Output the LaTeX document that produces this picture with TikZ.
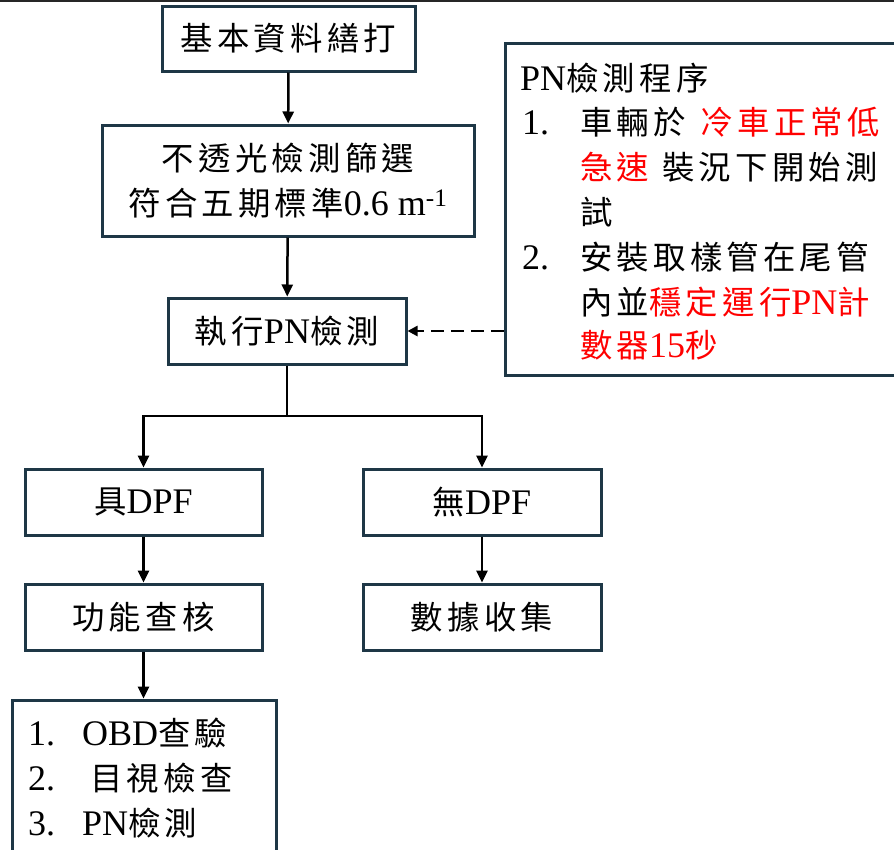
\documentclass[tikz,border=0pt]{standalone}
\usepackage{fontspec}
\setmainfont{Liberation Serif}
\newfontfamily\cjk[Scale=0.9,LetterSpace=13]{Noto Sans CJK TC}
\usetikzlibrary{arrows.meta}
\newcommand\C[1]{{\cjk #1}}
\definecolor{boxc}{RGB}{30,55,70}
\tikzset{
  flowbox/.style={draw=boxc, line width=3pt, fill=white, inner sep=0pt, align=center},
  txt/.style={inner sep=0pt, anchor=west},
  arr/.style={line width=2.5pt, -{Triangle[length=12pt,width=11pt]}},
  plain/.style={line width=2.5pt},
  dasharr/.style={line width=2.5pt, dash pattern=on 13pt off 7pt, -{Triangle[length=10pt,width=10pt]}}
}
\begin{document}
\begin{tikzpicture}[x=1pt,y=-1pt,font=\fontsize{36}{45}\selectfont]
\useasboundingbox (0,0) rectangle (894,849);
\clip (0,0) rectangle (894,849);
\fill[white] (0,0) rectangle (894,849);
\draw[line width=2.5pt, black!85] (0,1.2) -- (894,1.2);

% main boxes
\node[flowbox, minimum width=253pt, minimum height=65pt] (b1) at (288.5,38.5) {\C{基本資料繕打}};
\node[flowbox, minimum width=372pt, minimum height=111pt] (b2) at (288,180.5)
  {\C{不透光檢測篩選}\\\C{符合五期標準}0.6 m\textsuperscript{-1}};
\node[flowbox, minimum width=238pt, minimum height=66pt] (b3) at (287,331) {\C{執行}PN\C{檢測}};
\node[flowbox, minimum width=237pt, minimum height=66pt] (b4) at (143.5,502) {\C{具}DPF};
\node[flowbox, minimum width=238pt, minimum height=66pt] (b5) at (482,502) {\C{無}DPF};
\node[flowbox, minimum width=237pt, minimum height=66pt] (b6) at (143.5,617) {\C{功能查核}};
\node[flowbox, minimum width=238pt, minimum height=66pt] (b7) at (482,617) {\C{數據收集}};
\node[flowbox, minimum width=264pt, minimum height=170pt] (b8) at (144,785) {};

% procedure box
\node[flowbox, minimum width=420pt, minimum height=332pt] (pn) at (715,209) {};
\node[txt] (t0) at (520,78) {PN\C{檢測程序}};
\node[txt] (t1) at (522,122) {\makebox[58pt][l]{1.}\C{車輛於}\hspace{6pt} \textcolor{red}{\C{冷車正常低}}};
\node[txt] (t2) at (580,167) {\textcolor{red}{\C{急速}}\hspace{4pt} \C{裝況下開始測}};
\node[txt] (t3) at (580,212) {\C{試}};
\node[txt] (t4) at (522,257) {\makebox[58pt][l]{2.}\C{安裝取樣管在尾管}};
\node[txt] (t5) at (580,302) {\C{內並}\textcolor{red}{\C{穩定運行}PN\C{計}}};
\node[txt] (t6) at (580,345) {\textcolor{red}{\C{數器}15\C{秒}}};

% list box text
\node[txt] (l1) at (28,733) {\makebox[54pt][l]{1.}OBD\C{查驗}};
\node[txt] (l2) at (28,778) {\makebox[62pt][l]{2.}\C{目視檢查}};
\node[txt] (l3) at (28,823) {\makebox[54pt][l]{3.}PN\C{檢測}};

% connectors
\coordinate (split) at (287,416);
\draw[arr] (b1) -- (b2);
\draw[arr] (b2) -- (b3);
\draw[plain] (b3.south) -- (split);
\draw[arr] (split) -| (b4.north);
\draw[arr] (split) -| (b5.north);
\draw[arr] (b4) -- (b6);
\draw[arr] (b5) -- (b7);
\draw[arr] (b6.south) -- (b8.north -| b6.south);
\draw[dasharr] (pn.west |- b3.east) -- (b3.east);
\end{tikzpicture}
\end{document}
